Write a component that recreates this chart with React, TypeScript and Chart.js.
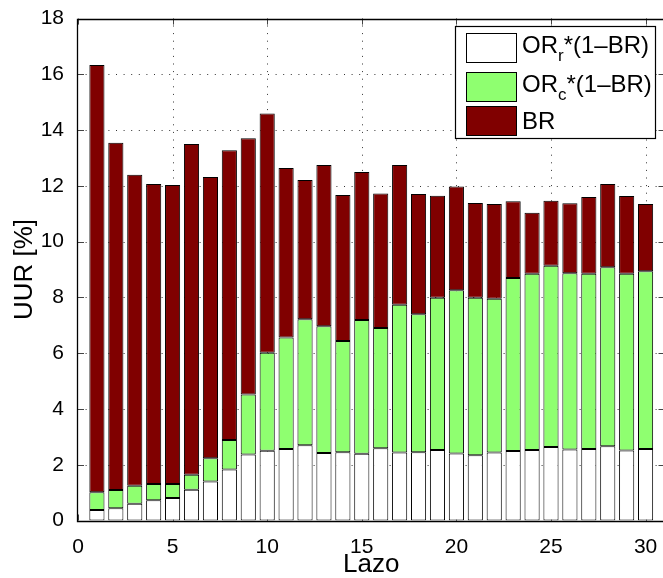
import React, { useEffect, useRef } from "react";
import { Chart, registerables } from "chart.js";

Chart.register(...registerables);

const lazo = [1, 2, 3, 4, 5, 6, 7, 8, 9, 10, 11, 12, 13, 14, 15, 16, 17, 18, 19, 20, 21, 22, 23, 24, 25, 26, 27, 28, 29, 30];
const orR = [0.38, 0.44, 0.60, 0.73, 0.81, 1.10, 1.40, 1.83, 2.37, 2.50, 2.56, 2.70, 2.42, 2.45, 2.39, 2.59, 2.44, 2.45, 2.53, 2.40, 2.34, 2.44, 2.49, 2.53, 2.64, 2.55, 2.56, 2.66, 2.51, 2.56];
const orC = [0.63, 0.65, 0.65, 0.58, 0.50, 0.54, 0.83, 1.06, 2.15, 3.52, 4.00, 4.52, 4.55, 3.99, 4.80, 4.31, 5.30, 4.95, 5.46, 5.86, 5.65, 5.51, 6.21, 6.32, 6.50, 6.32, 6.29, 6.42, 6.34, 6.38];
const br = [15.33, 12.46, 11.15, 10.76, 10.72, 11.86, 10.09, 10.39, 9.19, 8.58, 6.08, 4.99, 5.78, 5.23, 5.31, 4.83, 5.01, 4.31, 3.66, 3.72, 3.40, 3.40, 2.75, 2.19, 2.33, 2.51, 2.75, 2.99, 2.79, 2.41];
const xTicks = [0, 5, 10, 15, 20, 25, 30];
const yTicks = [0, 2, 4, 6, 8, 10, 12, 14, 16, 18];

const FONT = "'Liberation Sans', Arial, Helvetica, sans-serif";
const WHITE = "#ffffff";
const GREEN = "#8fff70";
const DARKRED = "#800000";

const legendItems = [
  { main: "OR", sub: "r", rest: "*(1\u2013BR)", color: WHITE },
  { main: "OR", sub: "c", rest: "*(1\u2013BR)", color: GREEN },
  { main: "BR", sub: "", rest: "", color: DARKRED },
];

const framePlugin = {
  id: "frame",
  beforeDatasetsDraw(chart: any) {
    const ctx = chart.ctx;
    const a = chart.chartArea;
    const xs = chart.scales.x;
    const ys = chart.scales.y;
    ctx.save();
    ctx.strokeStyle = "#333";
    ctx.lineWidth = 1;
    ctx.setLineDash([1, 6.6]);
    for (const v of xTicks) {
      if (v === 0) continue;
      const px = Math.round(xs.getPixelForValue(v)) + 0.5;
      ctx.beginPath();
      ctx.moveTo(px, a.bottom);
      ctx.lineTo(px, a.top);
      ctx.stroke();
    }
    for (const v of yTicks) {
      if (v === 0 || v === 18) continue;
      const py = Math.round(ys.getPixelForValue(v)) + 0.5;
      ctx.beginPath();
      ctx.moveTo(a.left, py);
      ctx.lineTo(a.right, py);
      ctx.stroke();
    }
    ctx.setLineDash([]);
    ctx.strokeStyle = "#444";
    const tl = 6;
    for (const v of xTicks) {
      const px = Math.round(xs.getPixelForValue(v)) + 0.5;
      ctx.beginPath();
      ctx.moveTo(px, a.bottom);
      ctx.lineTo(px, a.bottom - tl);
      ctx.moveTo(px, a.top);
      ctx.lineTo(px, a.top + tl);
      ctx.stroke();
    }
    for (const v of yTicks) {
      const py = Math.round(ys.getPixelForValue(v)) + 0.5;
      ctx.beginPath();
      ctx.moveTo(a.left, py);
      ctx.lineTo(a.left + tl, py);
      ctx.moveTo(a.right, py);
      ctx.lineTo(a.right - tl, py);
      ctx.stroke();
    }
    ctx.restore();
  },
  afterDatasetsDraw(chart: any) {
    const ctx = chart.ctx;
    const a = chart.chartArea;
    ctx.save();
    ctx.setLineDash([]);
    ctx.strokeStyle = "#000";
    ctx.lineWidth = 1.3;
    const l = Math.round(a.left) - 0.5;
    const r = Math.round(a.right) - 0.5;
    const t = Math.round(a.top) + 0.5;
    const b = Math.round(a.bottom) + 0.5;
    ctx.beginPath();
    ctx.moveTo(l, t);
    ctx.lineTo(r, t);
    ctx.lineTo(r, b);
    ctx.lineTo(l, b);
    ctx.closePath();
    ctx.stroke();

    const bx = 455.5, by = 26.5, bw = 200, bh = 112;
    ctx.fillStyle = "#fff";
    ctx.fillRect(bx, by, bw, bh);
    ctx.strokeStyle = "#000";
    ctx.lineWidth = 1.2;
    ctx.strokeRect(bx, by, bw, bh);
    const swY = [33.5, 72.5, 106.5];
    const baseY = [53, 91.5, 128.5];
    legendItems.forEach((it, i) => {
      ctx.fillStyle = it.color;
      ctx.fillRect(466.5, swY[i], 50, 29);
      ctx.strokeStyle = "#000";
      ctx.lineWidth = 1;
      ctx.strokeRect(466.5, swY[i], 50, 29);
      ctx.fillStyle = "#000";
      ctx.textBaseline = "alphabetic";
      ctx.textAlign = "left";
      ctx.font = `24px ${FONT}`;
      let x = 522;
      ctx.fillText(it.main, x, baseY[i]);
      x += ctx.measureText(it.main).width;
      if (it.sub) {
        ctx.font = `17px ${FONT}`;
        ctx.fillText(it.sub, x, baseY[i] + 8);
        x += ctx.measureText(it.sub).width;
        ctx.font = `24px ${FONT}`;
      }
      if (it.rest) ctx.fillText(it.rest, x, baseY[i]);
    });
    ctx.restore();
  },
};

export default function App() {
  const ref = useRef<HTMLCanvasElement | null>(null);
  useEffect(() => {
    if (!ref.current) return;
    const mk = (vals: number[]) => lazo.map((x, i) => ({ x, y: vals[i] }));
    const common = {
      borderColor: "#000",
      borderWidth: 1,
      borderSkipped: false,
      barPercentage: 0.8,
      categoryPercentage: 1,
    };
    const chart = new Chart(ref.current, {
      type: "bar",
      data: {
        datasets: [
          { label: "OR_r*(1-BR)", data: mk(orR), backgroundColor: WHITE, ...common },
          { label: "OR_c*(1-BR)", data: mk(orC), backgroundColor: GREEN, ...common },
          { label: "BR", data: mk(br), backgroundColor: DARKRED, ...common },
        ] as any,
      },
      options: {
        animation: false,
        responsive: false,
        devicePixelRatio: 1,
        layout: { padding: { left: 0, right: 15.5, top: 16.4, bottom: 0 } },
        plugins: { legend: { display: false }, tooltip: { enabled: false } },
        scales: {
          x: {
            type: "linear",
            stacked: true,
            offset: false,
            min: 0,
            max: 31,
            grid: { display: false, offset: false },
            border: { display: false },
            afterBuildTicks: (s: any) => {
              s.ticks = xTicks.map((v) => ({ value: v }));
            },
            afterFit: (s: any) => {
              s.height = 57.5;
            },
            ticks: {
              color: "#000",
              font: { family: FONT, size: 21 },
              padding: 6,
              maxRotation: 0,
              autoSkip: false,
            },
            title: {
              display: true,
              text: "Lazo",
              color: "#000",
              font: { family: FONT, size: 26, lineHeight: 1 },
              padding: { top: 0, bottom: 0 },
            },
          },
          y: {
            type: "linear",
            stacked: true,
            min: 0,
            max: 18,
            grid: { display: false },
            border: { display: false },
            afterBuildTicks: (s: any) => {
              s.ticks = yTicks.map((v) => ({ value: v }));
            },
            afterFit: (s: any) => {
              s.width = 78;
            },
            ticks: {
              color: "#000",
              font: { family: FONT, size: 21 },
              padding: 6,
              autoSkip: false,
            },
            title: {
              display: true,
              text: "UUR [%]",
              color: "#000",
              font: { family: FONT, size: 26, lineHeight: 1 },
              padding: { top: 12, bottom: 0 },
            },
          },
        },
      } as any,
      plugins: [framePlugin],
    });
    return () => chart.destroy();
  }, []);
  return (
    <div style={{ position: "fixed", left: 0, top: 0, width: 663, height: 578, overflow: "hidden", background: "#fff" }}>
      <canvas ref={ref} width={680} height={578} style={{ display: "block", width: 680, height: 578 }} />
    </div>
  );
}
